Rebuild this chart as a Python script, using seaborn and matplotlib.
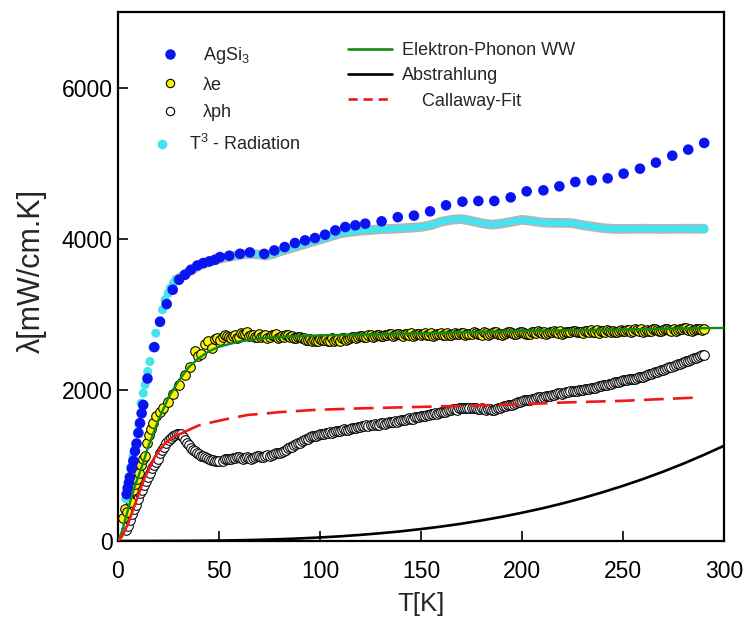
import numpy as np
import pandas as pd
import matplotlib
matplotlib.use("Agg")
import matplotlib.pyplot as plt
import matplotlib.patheffects as pe
from matplotlib.lines import Line2D
import seaborn as sns

# ---- AgSi3: total thermal conductivity (mW/cm.K) ----
t_ag = [4.3, 4.8, 5.4, 5.9, 6.8, 7.6, 8.4, 9.2, 10.1, 10.9, 11.7, 12.5, 14.6, 18.0,
        20.8, 24.1, 27.1, 30.2, 33.2, 36.1, 39.3, 42.2, 45.2, 48.0, 50.5, 55.1, 60.4,
        65.3, 72.4, 77.4, 82.5, 87.6, 92.6, 97.5, 102.5, 107.6, 112.5, 117.5, 122.4,
        130.5, 138.5, 146.5, 154.5, 162.4, 170.5, 178.4, 186.3, 194.4, 202.3, 210.6,
        218.5, 226.4, 234.5, 242.4, 250.3, 258.4, 266.3, 274.4, 282.3, 290.2]
lam_ag = [620, 700, 770, 840, 960, 1060, 1190, 1290, 1430, 1560, 1690, 1800, 2150, 2565,
          2900, 3135, 3325, 3457, 3523, 3589, 3646, 3678, 3700, 3722, 3757, 3775, 3801,
          3819, 3800, 3845, 3890, 3943, 3978, 4009, 4053, 4110, 4155, 4177, 4199,
          4230, 4285, 4305, 4362, 4442, 4490, 4499, 4499, 4547, 4627, 4640,
          4693, 4751, 4772, 4799, 4861, 4927, 5007, 5099, 5179, 5267]

# ---- radiation corrected (T^3) ----
t_rad_pts = [3.8, 4.6, 5.4, 6.4, 7.4, 8.7, 9.7, 10.4, 11.4, 12.5, 13.4, 14.7, 15.8,
             17.2, 18.7, 20.8, 22.0, 23.3, 24.9, 26.0, 27.4, 28.8]
lam_rad_pts = [560, 700, 852, 984, 1120, 1272, 1426, 1536, 1823, 1956, 2066, 2243, 2375,
               2560, 2751, 2918, 3060, 3192, 3280, 3350, 3413, 3460]
t_rad_band = [28.8, 30, 35, 40, 45, 50, 55, 60, 65, 70, 73, 77, 80, 85, 90, 95, 100,
              105, 110, 115, 120, 125, 130, 135, 140, 145, 150, 155, 160, 165, 170,
              175, 180, 185, 190, 195, 200, 205, 210, 215, 220, 225, 230, 235, 240,
              245, 250, 260, 270, 280, 290]
lam_rad_band = [3460, 3475, 3565, 3640, 3690, 3730, 3760, 3785, 3800, 3790, 3775, 3800,
                3830, 3870, 3910, 3950, 3990, 4030, 4070, 4090, 4105, 4115, 4125, 4130,
                4137, 4145, 4155, 4180, 4225, 4250, 4261, 4235, 4205, 4186, 4200, 4225,
                4250, 4235, 4215, 4210, 4210, 4205, 4180, 4160, 4140, 4130, 4130, 4132,
                4130, 4132, 4132]

# ---- electronic part lambda_e ----
t_e_low = [2.5, 3.5, 4.5, 5.5, 6.5, 7.5, 8.5, 9.5, 10.5, 11.5, 12.5, 13.5, 14.5, 15.5,
           16.5, 17.5, 19.0, 20.8, 22.5, 24.6, 27.0, 30.3, 33.0, 35.6, 38.1, 39.5,
           41.1, 43.1, 44.5, 46.4, 48.0, 49.0, 50.5]
lam_e_low = [300, 420, 380, 560, 520, 680, 750, 820, 900, 1000, 1080, 1120, 1300, 1400,
             1480, 1560, 1660, 1713, 1760, 1845, 1950, 2066, 2200, 2309, 2508, 2450,
             2477, 2609, 2640, 2552, 2671, 2690, 2662]
t_e_even = list(range(52, 291, 2))
lam_e_even = [2700, 2715, 2690, 2725, 2705, 2740, 2760, 2720, 2700, 2735, 2710, 2690, 2720,
              2745, 2705, 2695, 2720, 2710, 2690, 2705,
              2680, 2665, 2650, 2640, 2670, 2655, 2645, 2680, 2660, 2650, 2690, 2670, 2700,
              2680, 2710, 2695, 2720, 2700, 2730, 2715,
              2725, 2740, 2715, 2735, 2720, 2745, 2730, 2710, 2740, 2725, 2750, 2730, 2715,
              2740, 2755, 2730, 2720, 2745, 2735, 2750,
              2730, 2745, 2760, 2735, 2725, 2750, 2740, 2760, 2745, 2730, 2755, 2765, 2740,
              2750, 2770, 2745, 2735, 2760, 2775, 2750,
              2745, 2765, 2780, 2755, 2740, 2770, 2760, 2785, 2765, 2750, 2775, 2790, 2770,
              2755, 2780, 2795, 2770, 2760, 2785, 2775,
              2790, 2770, 2800, 2780, 2765, 2795, 2785, 2805, 2780, 2790, 2810, 2785, 2775,
              2800, 2815, 2795, 2785, 2810, 2800, 2805]
t_e_odd = list(range(53, 290, 2))
lam_e_odd = [2725, 2700, 2710, 2690, 2750, 2735, 2710, 2725, 2695, 2705, 2730, 2700, 2720,
             2690, 2710, 2730, 2700, 2685, 2700,
             2690, 2660, 2670, 2655, 2645, 2665, 2675, 2650, 2640, 2670, 2680, 2660, 2685,
             2695, 2700, 2715, 2705, 2725, 2710, 2730,
             2715, 2730, 2745, 2725, 2740, 2715, 2735, 2750, 2720, 2745, 2735, 2720, 2750,
             2730, 2745, 2725, 2750, 2730, 2755, 2740,
             2750, 2735, 2745, 2755, 2740, 2760, 2730, 2750, 2765, 2740, 2745, 2760, 2750,
             2735, 2765, 2755, 2745, 2770, 2750, 2765,
             2760, 2750, 2770, 2760, 2775, 2750, 2765, 2780, 2770, 2760, 2785, 2770, 2765,
             2790, 2775, 2760, 2785, 2780, 2770, 2790,
             2780, 2795, 2775, 2790, 2805, 2785, 2775, 2800, 2795, 2780, 2800, 2795, 2810,
             2790, 2800, 2815, 2800, 2790, 2805, 2795]

# ---- phonon part lambda_ph ----
t_ph_low = list(range(4, 51))
lam_ph_low = [140, 200, 280, 360, 420, 480, 560, 630, 680, 740, 790, 850, 900, 960, 1010,
              1040, 1080, 1160, 1200, 1250, 1300, 1330, 1360, 1385, 1400, 1415, 1420,
              1410, 1380, 1340, 1300, 1265, 1235, 1210, 1190, 1165, 1150, 1130, 1120,
              1110, 1095, 1085, 1075, 1068, 1060, 1052, 1060]
t_ph_even = list(range(52, 291, 2))
lam_ph_even = [1065, 1090, 1080, 1100, 1115, 1090, 1105, 1085, 1110, 1125, 1110, 1140, 1135,
               1165, 1170, 1195, 1225, 1250, 1285, 1300,
               1335, 1355, 1390, 1385, 1410, 1415, 1435, 1430, 1460, 1455, 1480, 1470, 1500,
               1495, 1515, 1525, 1520, 1540, 1535, 1555,
               1550, 1575, 1580, 1570, 1600, 1595, 1625, 1620, 1640, 1660, 1650, 1670, 1685,
               1680, 1710, 1705, 1730, 1745, 1740, 1760,
               1765, 1755, 1762, 1750, 1758, 1740, 1745, 1735, 1755, 1775, 1790, 1800, 1815,
               1840, 1850, 1870, 1865, 1885, 1900, 1895,
               1915, 1925, 1935, 1955, 1950, 1970, 1985, 1980, 2000, 1995, 2010, 2025, 2020,
               2045, 2060, 2070, 2080, 2100, 2105, 2125,
               2130, 2150, 2145, 2170, 2175, 2195, 2215, 2230, 2255, 2265, 2290, 2305, 2330,
               2345, 2370, 2385, 2410, 2425, 2450, 2465]
t_ph_odd = list(range(53, 290, 2))
lam_ph_odd = [1080, 1085, 1095, 1105, 1100, 1095, 1095, 1100, 1120, 1115, 1125, 1130, 1150,
              1160, 1180, 1210, 1240, 1270, 1295,
              1320, 1345, 1370, 1395, 1400, 1410, 1425, 1440, 1445, 1460, 1465, 1475, 1485,
              1500, 1505, 1520, 1530, 1530, 1545, 1540,
              1560, 1565, 1575, 1585, 1590, 1605, 1610, 1615, 1635, 1645, 1660, 1665, 1675,
              1690, 1695, 1710, 1720, 1735, 1745, 1755,
              1760, 1765, 1765, 1758, 1750, 1750, 1745, 1738, 1745, 1765, 1780, 1800, 1805,
              1830, 1845, 1860, 1870, 1875, 1890, 1905,
              1905, 1920, 1930, 1945, 1955, 1960, 1975, 1985, 1990, 1995, 2005, 2015, 2020,
              2035, 2050, 2065, 2075, 2090, 2100, 2115,
              2130, 2140, 2150, 2160, 2170, 2185, 2205, 2220, 2240, 2260, 2275, 2300, 2315,
              2340, 2355, 2380, 2395, 2420, 2435, 2455]

# ---- model curves ----
t_ep = [0, 2, 5, 8, 10, 12, 15, 18, 20, 25, 30, 35, 40, 45, 50, 60, 70, 80, 90, 100,
        125, 150, 175, 200, 225, 250, 275, 300]
lam_ep = [0, 130, 420, 700, 850, 1000, 1250, 1460, 1600, 1900, 2120, 2300, 2420, 2510,
          2570, 2640, 2680, 2700, 2712, 2720, 2735, 2750, 2765, 2780, 2790, 2800, 2810, 2820]

t_abs = [0, 10, 20, 30, 40, 50, 60, 70, 80, 90, 100, 110, 120, 130, 140, 150, 160, 170,
         180, 190, 200, 210, 220, 230, 240, 250, 260, 270, 280, 290, 300]
lam_abs = [0, 0.05, 0.4, 1.3, 3, 5.8, 10, 16, 24, 34, 47, 62, 81, 103, 128, 158, 191,
           229, 272, 320, 374, 432, 497, 568, 646, 730, 821, 919, 1025, 1139, 1260]

t_cal = [0, 2, 5, 8, 10, 13.4, 15, 18.3, 20, 23.3, 25, 28.2, 30, 32, 35, 40, 48, 55,
         64.5, 70, 80, 97.5, 120, 150, 170, 200, 220, 250, 288]
lam_cal = [0, 60, 230, 455, 600, 852, 930, 1117, 1180, 1294, 1330, 1391, 1410, 1430,
           1470, 1530, 1580, 1620, 1669, 1680, 1705, 1735, 1755, 1775, 1788, 1810, 1832,
           1855, 1900]

legend_left = ["AgSi$_3$", "λe", "λph"]
legend_rad = "T$^3$ - Radiation"
legend_right = ["Elektron-Phonon WW", "Abstrahlung", "    Callaway-Fit"]

C_BLUE = "#0a14f0"
C_CYAN = "#45e3ef"
C_YELLOW = "#f8f40a"
C_GREEN = "#138a13"
C_RED = "#f01818"

df_ag = pd.DataFrame({"T": t_ag, "lam": lam_ag})
df_rad = pd.DataFrame({"T": t_rad_pts, "lam": lam_rad_pts})
df_band = pd.DataFrame({"T": t_rad_band, "lam": lam_rad_band})
df_e = pd.DataFrame({"T": t_e_low + t_e_even + t_e_odd,
                     "lam": lam_e_low + lam_e_even + lam_e_odd}).sort_values("T")
df_ph = pd.DataFrame({"T": t_ph_low + t_ph_even + t_ph_odd,
                      "lam": lam_ph_low + lam_ph_even + lam_ph_odd}).sort_values("T")
df_ep = pd.DataFrame({"T": t_ep, "lam": lam_ep})
df_abs = pd.DataFrame({"T": t_abs, "lam": lam_abs})
df_cal = pd.DataFrame({"T": t_cal, "lam": lam_cal})

sns.set_style("ticks")
plt.rcParams["font.family"] = ["Liberation Sans", "DejaVu Sans"]
plt.rcParams["mathtext.fontset"] = "custom"
plt.rcParams["mathtext.rm"] = "Liberation Sans"
plt.rcParams["mathtext.it"] = "Liberation Sans"

fig = plt.figure(figsize=(7.48, 6.30), dpi=100)
ax = fig.add_axes([118 / 748, 89 / 630, 606 / 748, 529 / 630])

# radiation-limit curve
sns.lineplot(data=df_abs, x="T", y="lam", ax=ax, color="black", lw=1.9,
             sort=False, zorder=2, legend=False)

# phonon conductivity
sns.scatterplot(data=df_ph, x="T", y="lam", ax=ax, s=48, color="white",
                edgecolor="black", linewidth=0.75, zorder=3, legend=False)
# electronic conductivity
sns.scatterplot(data=df_e, x="T", y="lam", ax=ax, s=48, color=C_YELLOW,
                edgecolor="black", linewidth=0.75, zorder=4, legend=False)

# T^3 radiation corrected data: dense band plus separated low-T points
band = sns.lineplot(data=df_band, x="T", y="lam", ax=ax, color=C_CYAN, lw=4.6,
                    sort=False, zorder=5, legend=False)
band.lines[-1].set_path_effects([pe.Stroke(linewidth=7, foreground="#b4b4b4"), pe.Normal()])
sns.scatterplot(data=df_rad, x="T", y="lam", ax=ax, s=42, color=C_CYAN,
                edgecolor="none", zorder=5, legend=False)
sns.scatterplot(data=df_band.tail(1), x="T", y="lam", ax=ax, s=42, color=C_CYAN,
                edgecolor="none", zorder=5, legend=False)

# AgSi3 measured data
sns.scatterplot(data=df_ag, x="T", y="lam", ax=ax, s=58, color=C_BLUE,
                edgecolor="none", zorder=6, legend=False)

# electron-phonon model
sns.lineplot(data=df_ep, x="T", y="lam", ax=ax, color=C_GREEN, lw=1.7,
             sort=False, zorder=7, legend=False)
# Callaway fit: solid up to the maximum, dashed afterwards
cal_lo = df_cal[df_cal["T"] <= 32]
cal_hi = df_cal[df_cal["T"] >= 32]
sns.lineplot(data=cal_lo, x="T", y="lam", ax=ax, color=C_RED, lw=1.9,
             sort=False, zorder=7, legend=False)
sns.lineplot(data=cal_hi, x="T", y="lam", ax=ax, color=C_RED, lw=1.9,
             sort=False, zorder=7, legend=False)
ax.lines[-1].set_dashes([7.5, 3.5])

ax.set_xlim(0, 300)
ax.set_ylim(0, 7000)
ax.set_xticks([0, 50, 100, 150, 200, 250, 300])
ax.set_yticks([0, 2000, 4000, 6000])
ax.tick_params(axis="both", direction="in", length=7, width=1.2, labelsize=16.5,
               colors="black")
ax.tick_params(axis="x", pad=14)
ax.tick_params(axis="y", pad=4)
for sp in ax.spines.values():
    sp.set_visible(True)
    sp.set_linewidth(1.6)
    sp.set_color("black")
ax.set_xlabel("T[K]", fontsize=18.5, labelpad=6)
ax.set_ylabel("λ[mW/cm.K]", fontsize=22, labelpad=0)
ax.yaxis.set_label_coords(-0.117, 0.51)

# legends
h_left = [
    Line2D([], [], ls="none", marker="o", ms=6.5, mfc=C_BLUE, mec=C_BLUE),
    Line2D([], [], ls="none", marker="o", ms=6.0, mfc=C_YELLOW, mec="black", mew=0.8),
    Line2D([], [], ls="none", marker="o", ms=6.0, mfc="white", mec="black", mew=0.8),
]
leg1 = ax.legend(h_left, legend_left, loc="upper left", bbox_to_anchor=(0.071, 0.937),
                 frameon=False, fontsize=13, handlelength=1.0, handletextpad=1.3,
                 labelspacing=0.58, borderpad=0, borderaxespad=0)
ax.add_artist(leg1)
h_rad = [Line2D([], [], ls="none", marker="o", ms=6.0, mfc=C_CYAN, mec=C_CYAN)]
leg2 = ax.legend(h_rad, [legend_rad], loc="upper left", bbox_to_anchor=(0.057, 0.769),
                 frameon=False, fontsize=13, handlelength=1.0, handletextpad=1.0,
                 borderpad=0, borderaxespad=0)
ax.add_artist(leg2)
h_right = [
    Line2D([], [], color=C_GREEN, lw=1.9),
    Line2D([], [], color="black", lw=1.9),
    Line2D([], [], color=C_RED, lw=1.9, dashes=[3.5, 2.2]),
]
ax.legend(h_right, legend_right, loc="upper left", bbox_to_anchor=(0.3795, 0.943),
          frameon=False, fontsize=13, handlelength=2.45, handletextpad=0.55,
          labelspacing=0.46, borderpad=0, borderaxespad=0)

fig.savefig("out.png", dpi=100)
